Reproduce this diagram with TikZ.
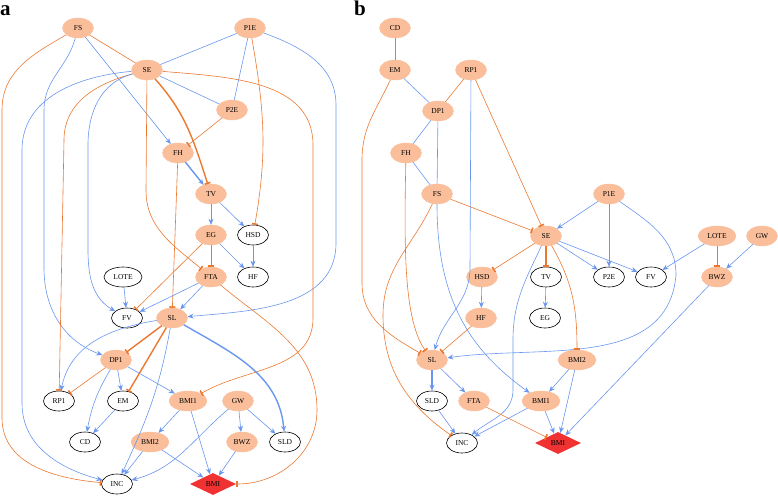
\documentclass[tikz,border=0pt]{standalone}
\usepackage{fontspec}
\setmainfont{Liberation Serif}
\usetikzlibrary{shapes.geometric,arrows.meta}

\definecolor{peach}{RGB}{250,190,155}
\definecolor{eblue}{RGB}{105,150,238}
\definecolor{eorange}{RGB}{236,120,48}
\definecolor{bmired}{RGB}{240,50,50}

\begin{document}
\begin{tikzpicture}
    [
        x=1pt, y=-1pt,
        font=\fontsize{7.5}{8}\selectfont,
        panel/.style={font=\fontsize{21}{21}\bfseries\selectfont, inner sep=0pt, anchor=base west},
        factor/.style={ellipse, fill=peach, draw=peach, minimum width=31pt, minimum height=20pt, inner sep=1pt},
        outcome/.style={ellipse, draw=black, fill=white, line width=0.6pt, minimum width=31pt, minimum height=20pt, inner sep=1pt},
        wide/.style={minimum width=38pt},
        target/.style={diamond, fill=bmired, minimum width=46pt, minimum height=22pt, inner sep=0pt},
        upedge/.style={draw=eblue, line width=0.6pt, -{Stealth[length=6pt,width=5pt,inset=2pt]}},
        downedge/.style={draw=eorange, line width=0.6pt, -{Rectangle[length=1.5pt,width=6pt]}},
        plainb/.style={draw=eblue, line width=0.6pt},
        plaino/.style={draw=eorange, line width=0.6pt},
        strong/.style={line width=1.4pt}
    ]
    \useasboundingbox (0,0) rectangle (778,495);

    % panel a
    \node[panel] (labA) at (0,16) {a};
    \node[factor] (aFS) at (78,28) {FS};
    \node[factor] (aP1E) at (250,28) {P1E};
    \node[factor] (aSE) at (147,70) {SE};
    \node[factor] (aP2E) at (232,110) {P2E};
    \node[factor] (aFH) at (178,153) {FH};
    \node[factor] (aTV) at (211,194) {TV};
    \node[factor] (aEG) at (211,235) {EG};
    \node[outcome] (aHSD) at (253,235) {HSD};
    \node[factor] (aFTA) at (211,277) {FTA};
    \node[outcome] (aHF) at (253,277) {HF};
    \node[outcome, wide] (aLOTE) at (123,277) {LOTE};
    \node[outcome] (aFV) at (127,318) {FV};
    \node[factor] (aSL) at (172,318) {SL};
    \node[factor] (aDP1) at (116,360) {DP1};
    \node[outcome] (aRP1) at (59,401) {RP1};
    \node[outcome] (aEM) at (123,401) {EM};
    \node[factor, wide] (aBMI1) at (188,401) {BMI1};
    \node[factor] (aGW) at (238,401) {GW};
    \node[outcome] (aCD) at (85,442) {CD};
    \node[factor, wide] (aBMI2) at (150,442) {BMI2};
    \node[factor] (aBWZ) at (242,442) {BWZ};
    \node[outcome] (aSLD) at (285,442) {SLD};
    \node[outcome] (aINC) at (117,484) {INC};
    \node[target] (aBMI) at (213,484) {BMI};

    \draw[plaino] (aFS) -- (aSE);
    \draw[upedge] (aFS) -- (aFH);
    \draw[upedge] (aFS) to[out=-105,in=90] (44,110) -- (44,268) to[out=-90,in=160] (aDP1);
    \draw[downedge] (aFS) to[out=-150,in=90] (2,110) -- (2,418) to[out=-90,in=175] (aINC);
    \draw[plainb] (aP1E) -- (aSE);
    \draw[plainb] (aP1E) -- (aP2E);
    \draw[downedge] (aP1E) to[out=-80,in=80] (aHSD);
    \draw[upedge] (aP1E) to[out=-20,in=90] (336,105) -- (336,243) to[out=-90,in=5] (aSL);
    \draw[plainb] (aSE) -- (aP2E);
    \draw[downedge, strong] (aSE) to[out=-48,in=108] (aTV);
    \draw[downedge] (aSE) -- (146,190) to[out=-90,in=140] (aFTA);
    \draw[downedge] (aSE) to[out=195,in=90] (64,140) -- (aRP1);
    \draw[upedge] (aSE) to[out=195,in=90] (88,145) -- (88,250) to[out=-90,in=150] (aFV);
    \draw[upedge] (aSE) to[out=185,in=90] (22,150) -- (22,403) to[out=-90,in=165] (aINC);
    \draw[downedge] (aSE) to[out=-5,in=90] (313,145) -- (313,318) to[out=-90,in=30] (aBMI1);
    \draw[downedge] (aP2E) -- (aFH);
    \draw[upedge, strong] (aFH) -- (aTV);
    \draw[downedge] (aFH) -- (aSL);
    \draw[upedge] (aTV) -- (aEG);
    \draw[upedge] (aTV) -- (aHSD);
    \draw[downedge] (aEG) -- (aFTA);
    \draw[upedge] (aEG) -- (aHF);
    \draw[downedge] (aEG) -- (aFV);
    \draw[upedge] (aHSD) -- (aHF);
    \draw[upedge] (aFTA) -- (aFV);
    \draw[upedge] (aFTA) -- (aSL);
    \draw[downedge] (aFTA) to[out=-40,in=90] (317,410) to[out=-90,in=0] (aBMI);
    \draw[upedge] (aLOTE) -- (aFV);
    \draw[downedge, strong] (aSL) -- (aDP1);
    \draw[downedge, strong] (aSL) -- (aEM);
    \draw[upedge] (aSL) .. controls (110,328) and (70,345) .. (aRP1);
    \draw[upedge] (aSL) to[out=-100,in=65] (aINC);
    \draw[upedge, strong] (aSL) to[out=-30,in=95] (aSLD);
    \draw[downedge] (aDP1) -- (aRP1);
    \draw[upedge] (aDP1) -- (aEM);
    \draw[upedge] (aDP1) to[bend right=10] (aCD);
    \draw[upedge] (aDP1) -- (aBMI1);
    \draw[upedge] (aEM) -- (aCD);
    \draw[upedge] (aBMI1) -- (aBMI2);
    \draw[upedge] (aBMI1) -- (aBMI);
    \draw[upedge] (aGW) -- (aBWZ);
    \draw[upedge] (aGW) -- (aSLD);
    \draw[upedge] (aGW) to[out=-140,in=15] (aINC);
    \draw[upedge] (aBMI2) -- (aINC);
    \draw[upedge] (aBMI2) -- (aBMI);
    \draw[upedge] (aBWZ) -- (aBMI);

    % panel b
    \node[panel] (labB) at (354,16) {b};
    \node[factor] (bCD) at (395,28) {CD};
    \node[factor] (bEM) at (395,70) {EM};
    \node[factor] (bRP1) at (471,70) {RP1};
    \node[factor] (bDP1) at (438,111) {DP1};
    \node[factor] (bFH) at (406,153) {FH};
    \node[factor] (bFS) at (437,194) {FS};
    \node[factor] (bP1E) at (609,194) {P1E};
    \node[factor] (bSE) at (546,236) {SE};
    \node[factor, wide] (bLOTE) at (717,236) {LOTE};
    \node[factor] (bGW) at (762,236) {GW};
    \node[factor] (bHSD) at (482,277) {HSD};
    \node[outcome] (bTV) at (546,277) {TV};
    \node[outcome] (bP2E) at (609,277) {P2E};
    \node[outcome] (bFV) at (651,277) {FV};
    \node[factor] (bBWZ) at (717,277) {BWZ};
    \node[factor] (bHF) at (481,318) {HF};
    \node[outcome] (bEG) at (545,318) {EG};
    \node[factor] (bSL) at (432,360) {SL};
    \node[factor, wide] (bBMI2) at (577,360) {BMI2};
    \node[outcome] (bSLD) at (432,401) {SLD};
    \node[factor] (bFTA) at (474,401) {FTA};
    \node[factor, wide] (bBMI1) at (541,401) {BMI1};
    \node[outcome] (bINC) at (462,443) {INC};
    \node[target] (bBMI) at (558,443) {BMI};

    \draw[plainb] (bCD) -- (bEM);
    \draw[plainb] (bEM) -- (bDP1);
    \draw[downedge] (bEM) to[out=-115,in=90] (362,160) -- (362,283) to[out=-90,in=150] (bSL);
    \draw[plaino] (bRP1) -- (bDP1);
    \draw[upedge] (bRP1) -- (470,268) to[out=-90,in=75] (bSL);
    \draw[downedge] (bRP1) -- (bSE);
    \draw[plainb] (bDP1) -- (bFS);
    \draw[plainb] (bDP1) -- (bFH);
    \draw[plainb] (bFH) -- (bFS);
    \draw[downedge] (bFH) .. controls (404,250) and (404,320) .. (bSL);
    \draw[downedge] (bFS) -- (bSE);
    \draw[downedge] (bFS) to[out=-115,in=90] (383,315) to[out=-90,in=145] (bINC);
    \draw[upedge] (bFS) .. controls (437,300) and (470,350) .. (bBMI1);
    \draw[upedge] (bP1E) -- (bSE);
    \draw[upedge] (bP1E) -- (bP2E);
    \draw[upedge] (bP1E) to[out=-35,in=90] (676,275) to[out=-95,in=8] (bSL);
    \draw[upedge] (bLOTE) -- (bFV);
    \draw[downedge] (bLOTE) -- (bBWZ);
    \draw[upedge] (bGW) -- (bBWZ);
    \draw[upedge] (bBWZ) -- (bBMI);
    \draw[downedge] (bSE) -- (bHSD);
    \draw[downedge, strong] (bSE) -- (bTV);
    \draw[upedge] (bSE) -- (bP2E);
    \draw[upedge] (bSE) -- (bFV);
    \draw[downedge] (bSE) to[out=-60,in=90] (bBMI2);
    \draw[upedge] (bSE) to[out=-115,in=90] (513,340) -- (513,390) to[out=-90,in=40] (bINC);
    \draw[upedge] (bHSD) -- (bHF);
    \draw[downedge] (bHF) -- (bSL);
    \draw[upedge] (bTV) -- (bEG);
    \draw[upedge, strong] (bSL) -- (bSLD);
    \draw[upedge] (bSL) -- (bFTA);
    \draw[upedge] (bSLD) -- (bINC);
    \draw[downedge] (bFTA) -- (bBMI);
    \draw[upedge] (bBMI1) -- (bINC);
    \draw[upedge] (bBMI1) -- (bBMI);
    \draw[upedge] (bBMI2) -- (bBMI1);
    \draw[upedge] (bBMI2) -- (bBMI);
\end{tikzpicture}
\end{document}
